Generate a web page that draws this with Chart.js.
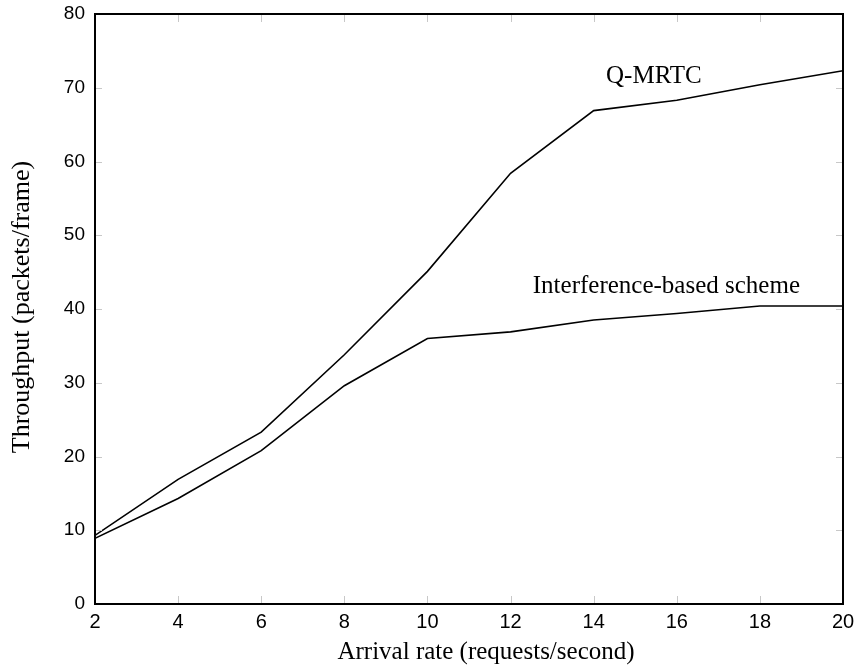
<!DOCTYPE html>
<html>
<head>
<meta charset="utf-8">
<script src="https://cdn.jsdelivr.net/npm/chart.js@4/dist/chart.umd.min.js"></script>
<style>
    html, body { margin: 0; padding: 0; background: #fff; }
    #wrap { width: 854px; height: 669px; }
</style>
</head>
<body>
<div id="wrap"><canvas id="throughput_chart" width="854" height="669"></canvas></div>
<script>
// データ
const arrival_rates = [2, 4, 6, 8, 10, 12, 14, 16, 18, 20];
const qmrtc_values = [9.3, 16.9, 23.3, 33.8, 45.1, 58.4, 66.9, 68.3, 70.4, 72.3];
const interference_values = [8.9, 14.3, 20.8, 29.6, 36.0, 36.9, 38.5, 39.4, 40.4, 40.4];
const x_ticks = [2, 4, 6, 8, 10, 12, 14, 16, 18, 20];
const y_ticks = [0, 10, 20, 30, 40, 50, 60, 70, 80];
// 注記ラベル
const label_texts = ['Q-MRTC', 'Interference-based scheme'];
const label_positions = [[15.45, 71.5], [15.75, 43.0]];
// 軸タイトル
const x_title = 'Arrival rate (requests/second)';
const y_title = 'Throughput (packets/frame)';

// 画面読み込み時の処理
window.addEventListener('load', function() {
    createChart();
});

// 枠・内向き目盛・注記・軸タイトルを描くプラグイン
const framePlugin = {
    id: 'framePlugin',
    afterDatasetsDraw(chart) {
        const ctx = chart.ctx;
        const area = chart.chartArea;
        const xs = chart.scales.x;
        const ys = chart.scales.y;
        ctx.save();
        // 内向きの目盛
        ctx.strokeStyle = '#c8c8c8';
        ctx.lineWidth = 1;
        ctx.beginPath();
        x_ticks.forEach(function(v) {
            const px = Math.round(xs.getPixelForValue(v)) + 0.5;
            ctx.moveTo(px, area.bottom); ctx.lineTo(px, area.bottom - 8);
            ctx.moveTo(px, area.top); ctx.lineTo(px, area.top + 8);
        });
        y_ticks.forEach(function(v) {
            const py = Math.round(ys.getPixelForValue(v)) + 0.5;
            ctx.moveTo(area.left, py); ctx.lineTo(area.left + 7, py);
            ctx.moveTo(area.right, py); ctx.lineTo(area.right - 7, py);
        });
        ctx.stroke();
        // 枠線
        ctx.strokeStyle = '#000';
        ctx.lineWidth = 2;
        ctx.strokeRect(area.left, area.top, area.right - area.left, area.bottom - area.top);
        // 注記
        ctx.fillStyle = '#000';
        ctx.font = '25px "Liberation Serif", "DejaVu Serif", serif';
        ctx.textAlign = 'center';
        ctx.textBaseline = 'middle';
        label_texts.forEach(function(t, i) {
            ctx.fillText(t, xs.getPixelForValue(label_positions[i][0]), ys.getPixelForValue(label_positions[i][1]));
        });
        // 軸タイトル
        ctx.fillText(x_title, (area.left + area.right) / 2 + 17, area.bottom + 48);
        ctx.translate(area.left - 73, (area.top + area.bottom) / 2 - 2);
        ctx.rotate(-Math.PI / 2);
        ctx.font = '26px "Liberation Serif", "DejaVu Serif", serif';
        ctx.fillText(y_title, 0, 0);
        ctx.restore();
    }
};

// グラフを作成
function createChart() {
    const ctx = document.getElementById('throughput_chart').getContext('2d');
    new Chart(ctx, {
        type: 'line',
        data: {
            datasets: [
                getDataset('Q-MRTC', qmrtc_values),
                getDataset('Interference-based scheme', interference_values)
            ]
        },
        options: {
            responsive: false,
            animation: false,
            layout: { padding: { left: 0, right: 11, top: 14, bottom: 0 } },
            plugins: {
                legend: { display: false },
                tooltip: { enabled: false }
            },
            scales: {
                x: {
                    type: 'linear',
                    min: 2,
                    max: 20,
                    afterBuildTicks: function(scale) {
                        scale.ticks = x_ticks.map(function(v) { return { value: v }; });
                    },
                    afterFit: function(scale) {
                        scale.height = 65;
                        // ラベルのはみ出し分を無視
                        scale.paddingLeft = 0;
                        scale.paddingRight = 0;
                    },
                    grid: { display: false, drawTicks: false },
                    border: { display: false },
                    ticks: {
                        color: '#000',
                        font: { family: '"Liberation Sans", Arial, sans-serif', size: 20 },
                        padding: 6,
                        maxRotation: 0
                    }
                },
                y: {
                    type: 'linear',
                    min: 0,
                    max: 80,
                    afterBuildTicks: function(scale) {
                        scale.ticks = y_ticks.map(function(v) { return { value: v }; });
                    },
                    afterFit: function(scale) {
                        scale.width = 95;
                        scale.paddingTop = 0;
                        scale.paddingBottom = 0;
                    },
                    grid: { display: false, drawTicks: false },
                    border: { display: false },
                    ticks: {
                        color: '#000',
                        font: { family: '"Liberation Sans", Arial, sans-serif', size: 19 },
                        padding: 10
                    }
                }
            }
        },
        plugins: [framePlugin]
    });
}

// 系列データを作成
function getDataset(label, values) {
    return {
        label: label,
        data: arrival_rates.map(function(x, i) { return { x: x, y: values[i] }; }),
        borderColor: '#000',
        borderWidth: 1.6,
        pointRadius: 0,
        tension: 0,
        fill: false
    };
}
</script>
</body>
</html>
